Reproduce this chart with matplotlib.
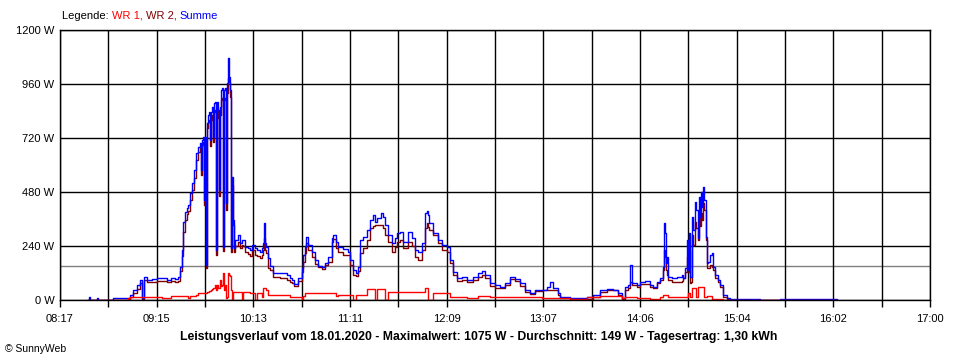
import numpy as np
import matplotlib
matplotlib.use("Agg")
import matplotlib.pyplot as plt
from matplotlib.text import Annotation

plt.rcParams['font.family'] = ['Liberation Sans', 'DejaVu Sans']

# time of day in minutes since midnight, values in W
minutes = [513.8, 514.4, 515.0, 519.2, 519.8, 528.9, 537.9, 539.1, 540.9, 543.3,
           545.1, 546.3, 547.5, 549.3, 552.3, 555.3, 558.3, 561.3, 563.7, 566.1,
           567.9, 569.1, 570.3, 570.9, 572.1, 573.3, 574.0, 575.1, 576.4, 577.6,
           578.8, 580.0, 581.2, 581.8, 582.4, 583.0, 583.6, 584.2, 584.8, 585.4,
           586.0, 586.6, 587.2, 587.8, 588.4, 589.0, 589.6, 590.2, 590.8, 591.4,
           592.0, 592.6, 593.2, 593.8, 594.4, 595.0, 595.6, 596.2, 596.8, 597.4,
           598.0, 598.6, 599.2, 599.8, 600.4, 601.0, 601.6, 602.2, 602.8, 604.0,
           605.2, 606.4, 607.0, 608.2, 610.0, 611.2, 612.4, 614.2, 615.4, 617.2,
           618.4, 619.0, 619.6, 620.2, 620.8, 622.0, 623.2, 625.0, 629.3, 633.5,
           635.3, 636.5, 637.7, 640.1, 642.5, 643.1, 644.3, 644.9, 646.1, 648.5,
           650.3, 652.1, 654.5, 656.3, 658.1, 660.5, 661.1, 662.9, 664.1, 667.1,
           670.1, 671.3, 673.1, 674.9, 676.1, 677.3, 679.1, 681.6, 683.4, 685.2,
           686.4, 687.6, 690.0, 691.2, 692.4, 694.2, 696.6, 698.4, 699.6, 701.4,
           703.2, 706.2, 708.6, 710.4, 712.2, 714.6, 716.4, 717.6, 718.2, 718.8,
           721.2, 724.2, 726.6, 729.6, 731.4, 733.3, 735.7, 738.7, 741.7, 745.3,
           748.3, 750.7, 752.5, 755.5, 758.5, 761.5, 764.5, 767.5, 770.5, 773.5,
           776.5, 779.5, 782.5, 786.8, 789.8, 791.6, 793.4, 796.4, 797.6, 803.6,
           811.4, 813.8, 817.4, 821.6, 825.8, 829.4, 832.4, 834.8, 836.6, 838.5,
           839.7, 840.9, 843.9, 845.7, 848.7, 851.7, 853.5, 855.9, 857.7, 859.5,
           860.1, 860.7, 861.3, 861.9, 862.5, 864.9, 867.9, 870.9, 871.5, 872.7,
           873.9, 874.5, 875.1, 875.7, 876.3, 876.9, 877.5, 878.7, 879.3, 880.5,
           881.1, 881.7, 882.3, 882.9, 883.5, 884.1, 885.3, 885.9, 886.5, 887.7,
           888.9, 889.5, 890.8, 892.6, 893.8, 895.6, 898.0, 899.8, 908.8, 917.8,
           929.8, 941.9, 953.9, 964.1]

summe = [0, 13, 0, 9, 0, 7, 9, 22, 44, 67,
         89, 9, 102, 89, 93, 98, 98, 89, 98, 93,
         102, 147, 222, 347, 391, 409, 422, 476, 520, 578,
         653, 680, 698, 578, 711, 724, 444, 724, 156, 787,
         822, 836, 711, 836, 858, 724, 876, 880, 222, 880,
         844, 489, 858, 933, 942, 236, 933, 942, 431, 964,
         1075, 991, 933, 231, 547, 356, 231, 267, 267, 289,
         253, 267, 267, 236, 231, 222, 244, 231, 222, 213,
         231, 253, 342, 253, 236, 187, 151, 120, 120, 111,
         98, 89, 71, 98, 142, 200, 236, 280, 244, 213,
         178, 151, 147, 164, 191, 276, 289, 258, 236, 227,
         213, 178, 133, 120, 147, 267, 280, 311, 356, 378,
         347, 364, 387, 369, 333, 289, 253, 276, 298, 302,
         258, 302, 276, 222, 213, 253, 387, 396, 378, 342,
         298, 267, 244, 236, 178, 124, 98, 102, 89, 102,
         120, 129, 111, 76, 67, 58, 76, 102, 93, 76,
         44, 31, 44, 44, 58, 80, 53, 31, 13, 9,
         9, 13, 22, 44, 49, 44, 31, 9, 58, 67,
         156, 76, 67, 80, 84, 67, 58, 80, 98, 147,
         342, 298, 164, 191, 102, 98, 102, 111, 98, 142,
         267, 133, 298, 102, 102, 369, 311, 436, 400, 276,
         458, 369, 480, 413, 502, 444, 280, 164, 169, 200,
         209, 147, 111, 89, 67, 22, 9, 4, 3, 0,
         4, 3, 3, 0]

wr2 = [0, 0, 0, 0, 0, 0, 4, 13, 31, 49,
       76, 4, 89, 80, 80, 84, 84, 80, 84, 80,
       84, 129, 196, 302, 356, 382, 396, 444, 489, 542,
       622, 658, 676, 556, 689, 702, 422, 698, 142, 764,
       791, 800, 684, 800, 822, 702, 836, 844, 200, 844,
       809, 462, 822, 889, 898, 218, 889, 898, 400, 920,
       987, 969, 902, 213, 511, 333, 213, 240, 240, 258,
       231, 244, 240, 213, 204, 196, 222, 200, 196, 187,
       200, 222, 276, 222, 209, 142, 133, 102, 98, 89,
       80, 76, 62, 84, 124, 169, 209, 253, 222, 191,
       160, 147, 138, 156, 169, 258, 271, 231, 213, 200,
       200, 156, 111, 107, 129, 209, 231, 267, 320, 329,
       333, 333, 333, 320, 289, 258, 213, 236, 258, 267,
       231, 258, 240, 191, 178, 222, 320, 342, 324, 311,
       289, 253, 222, 213, 164, 111, 84, 89, 80, 89,
       102, 111, 98, 62, 53, 53, 67, 93, 84, 62,
       36, 27, 40, 44, 44, 44, 44, 22, 9, 4,
       4, 4, 13, 36, 44, 44, 22, 4, 44, 53,
       80, 67, 58, 71, 71, 58, 53, 76, 89, 133,
       222, 191, 133, 111, 89, 80, 80, 84, 98, 124,
       191, 124, 222, 76, 80, 289, 244, 347, 320, 267,
       364, 329, 387, 356, 431, 400, 267, 142, 142, 156,
       147, 133, 98, 80, 58, 13, 4, 0, 0, 0,
       0, 0, 0, 0]

wr1 = [0, 0, 0, 0, 0, 0, 9, 13, 13, 13,
       13, 13, 13, 13, 13, 13, 11, 9, 18, 18,
       18, 18, 18, 18, 18, 18, 9, 18, 18, 18,
       22, 31, 31, 31, 31, 31, 31, 31, 31, 36,
       36, 40, 40, 44, 49, 53, 53, 67, 44, 67,
       53, 53, 89, 62, 67, 120, 44, 67, 9, 13,
       120, 111, 107, 44, 0, 36, 36, 36, 36, 36,
       36, 0, 36, 36, 36, 31, 31, 0, 31, 31,
       13, 53, 53, 53, 44, 22, 22, 22, 22, 22,
       13, 13, 13, 13, 0, 18, 31, 31, 31, 31,
       31, 31, 31, 31, 31, 31, 31, 18, 22, 22,
       22, 22, 0, 22, 22, 22, 22, 49, 49, 49,
       0, 49, 49, 49, 0, 36, 36, 36, 36, 36,
       36, 36, 36, 36, 36, 36, 53, 53, 0, 0,
       31, 31, 31, 31, 13, 13, 13, 13, 9, 9,
       18, 18, 18, 13, 13, 13, 13, 13, 13, 13,
       13, 13, 13, 11, 11, 11, 9, 9, 7, 4,
       4, 13, 13, 18, 18, 18, 18, 9, 13, 13,
       13, 13, 9, 9, 9, 4, 4, 4, 13, 22,
       22, 22, 22, 22, 13, 13, 13, 13, 13, 13,
       13, 31, 31, 13, 13, 53, 53, 53, 13, 58,
       58, 58, 58, 58, 58, 13, 13, 18, 18, 18,
       4, 4, 4, 4, 4, 0, 0, 0, 0, 0,
       0, 0, 0, 0]

average = 149
x_start, x_end = 497, 1020   # 08:17 .. 17:00
x_labels = ["08:17", "09:15", "10:13", "11:11", "12:09",
            "13:07", "14:06", "15:04", "16:02", "17:00"]
y_ticks = [0, 240, 480, 720, 960, 1200]

fig = plt.figure(figsize=(9.6, 3.6), dpi=100)
ax = fig.add_axes([0.0625, 0.1667, 0.90625, 0.75])

# grid: black lines, grey line for the daily average
ax.axhline(average, color='#808080', lw=1, zorder=0.5)
xt = np.linspace(x_start, x_end, 19)
for v in xt:
    ax.axvline(v, color='black', lw=1, zorder=1)
for v in y_ticks:
    ax.axhline(v, color='black', lw=1, zorder=1)

ax.step(minutes, wr2, where='post', color='#800000', lw=1.0, zorder=2)
ax.step(minutes, summe, where='post', color='#0000ff', lw=1.0, zorder=2.1)
ax.step(minutes, wr1, where='post', color='#ff0000', lw=1.0, zorder=2.2)

ax.set_xlim(x_start, x_end)
ax.set_ylim(0, 1200)
labels = [x_labels[i // 2] if i % 2 == 0 else "" for i in range(19)]
ax.set_xticks(xt)
ax.set_xticklabels(labels, fontsize=8)
ax.set_yticks(y_ticks)
ax.set_yticklabels([f"{v} W" for v in y_ticks], fontsize=8)
ax.tick_params(axis='x', length=5, width=1, color='black', pad=5)
ax.tick_params(axis='y', length=0, pad=4)
for s in ax.spines.values():
    s.set_linewidth(1)
    s.set_zorder(3)

# coloured legend line above the plot
prev = fig.text(62 / 960, 1 - 16 / 360, "Legende: ", fontsize=8, color='black', va='center')
for txt, col in [("WR 1, ", '#ff0000'), ("WR 2, ", '#800000'), ("Summe", '#0000ff')]:
    prev = fig.add_artist(Annotation(txt, xy=(1, 0.5), xycoords=prev,
                                     va='center', ha='left', fontsize=8, color=col))

fig.text(479 / 960, 1 - 337 / 360,
         "Leistungsverlauf vom 18.01.2020 - Maximalwert: 1075 W - Durchschnitt: 149 W - Tagesertrag: 1,30 kWh",
         ha='center', va='center', fontsize=8.8, fontweight='bold')
fig.text(5 / 960, 1 - 349 / 360, "\u00a9 SunnyWeb", fontsize=7.5, va='center')

fig.savefig("out.png", dpi=100)
